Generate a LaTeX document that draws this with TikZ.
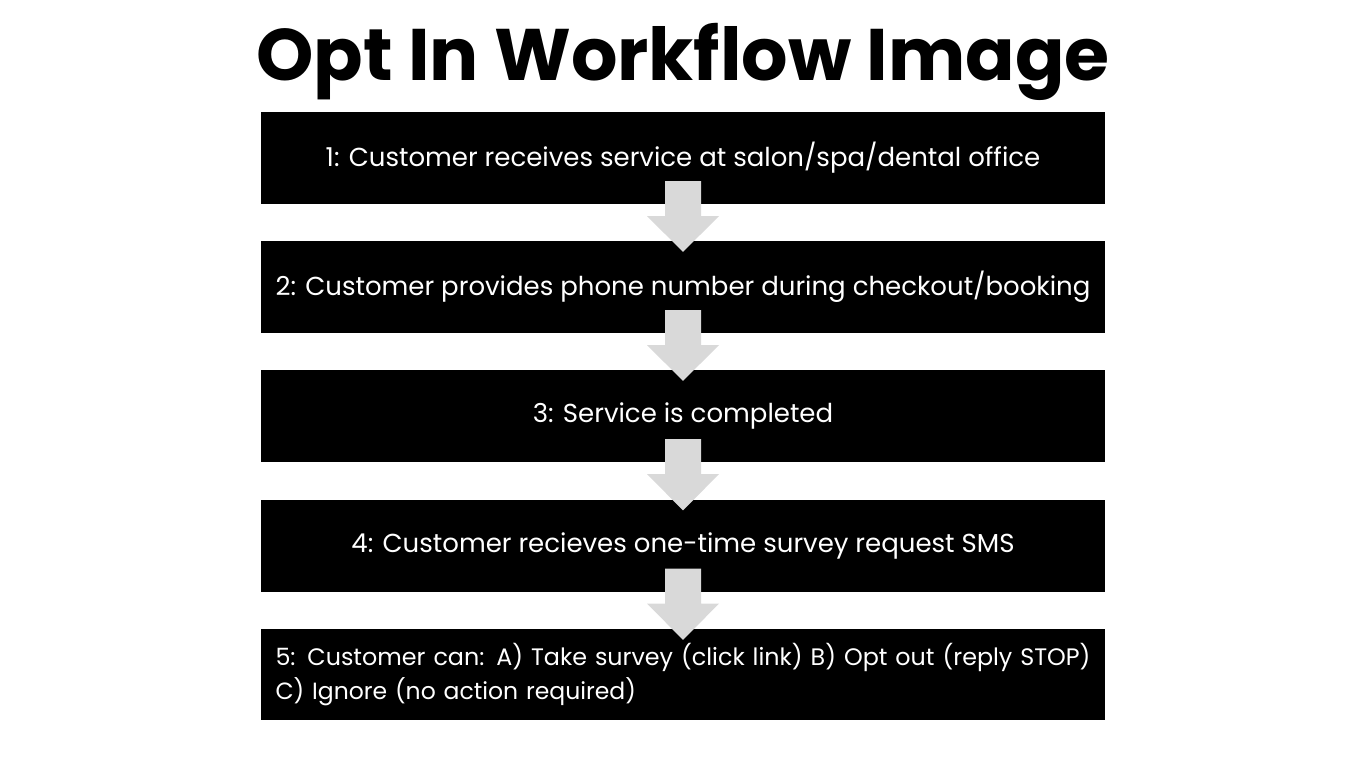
\documentclass[tikz,border=0pt]{standalone}
\usepackage{graphicx}
\usepackage{fontspec}
\setmainfont{Poppins}
\usetikzlibrary{calc}
\begin{document}
\begin{tikzpicture}[x=1pt,y=-1pt,
  stepbox/.style={fill=black,draw=none,minimum width=844pt,minimum height=92pt,inner sep=0pt,text=white,font=\fontsize{26}{34}\selectfont},
  flowarrow/.style={fill=gray!30,draw=none}]
\useasboundingbox (0,0) rectangle (1366,768);
\node[font=\bfseries\fontsize{73}{80}\selectfont] (title) at (683,62) {Opt In Workflow Image};
\node[stepbox] (b1) at (683,158) {1: Customer receives service at salon/spa/dental office};
\node[stepbox] (b2) at (683,287) {2: Customer provides phone number during checkout/booking};
\node[stepbox] (b3) at (683,416) {3: Service is completed};
\node[stepbox] (b4) at (683,545.5) {4: Customer recieves one-time survey request SMS};
\node[stepbox,align=left,text width=815pt,minimum height=91pt,font=\fontsize{23.5}{34}\selectfont] (b5) at (683,674.5) {\resizebox{815pt}{!}{5: Customer can: A) Take survey (click link) B) Opt out (reply STOP)}\\C) Ignore (no action required)};
\foreach \a/\b in {b1/b2,b2/b3,b3/b4,b4/b5}{
  \path (\a.south) ++(0,-23) coordinate (s\a);
  \path (\b.north) ++(0,11) coordinate (t\a);
  \fill[flowarrow] ($(s\a)+(-18,0)$) -- ($(s\a)+(18,0)$) -- ($(s\a)+(18,35)$) -- ($(s\a)+(36,35)$) -- (t\a) -- ($(s\a)+(-36,35)$) -- ($(s\a)+(-18,35)$) -- cycle;
}
\end{tikzpicture}
\end{document}
